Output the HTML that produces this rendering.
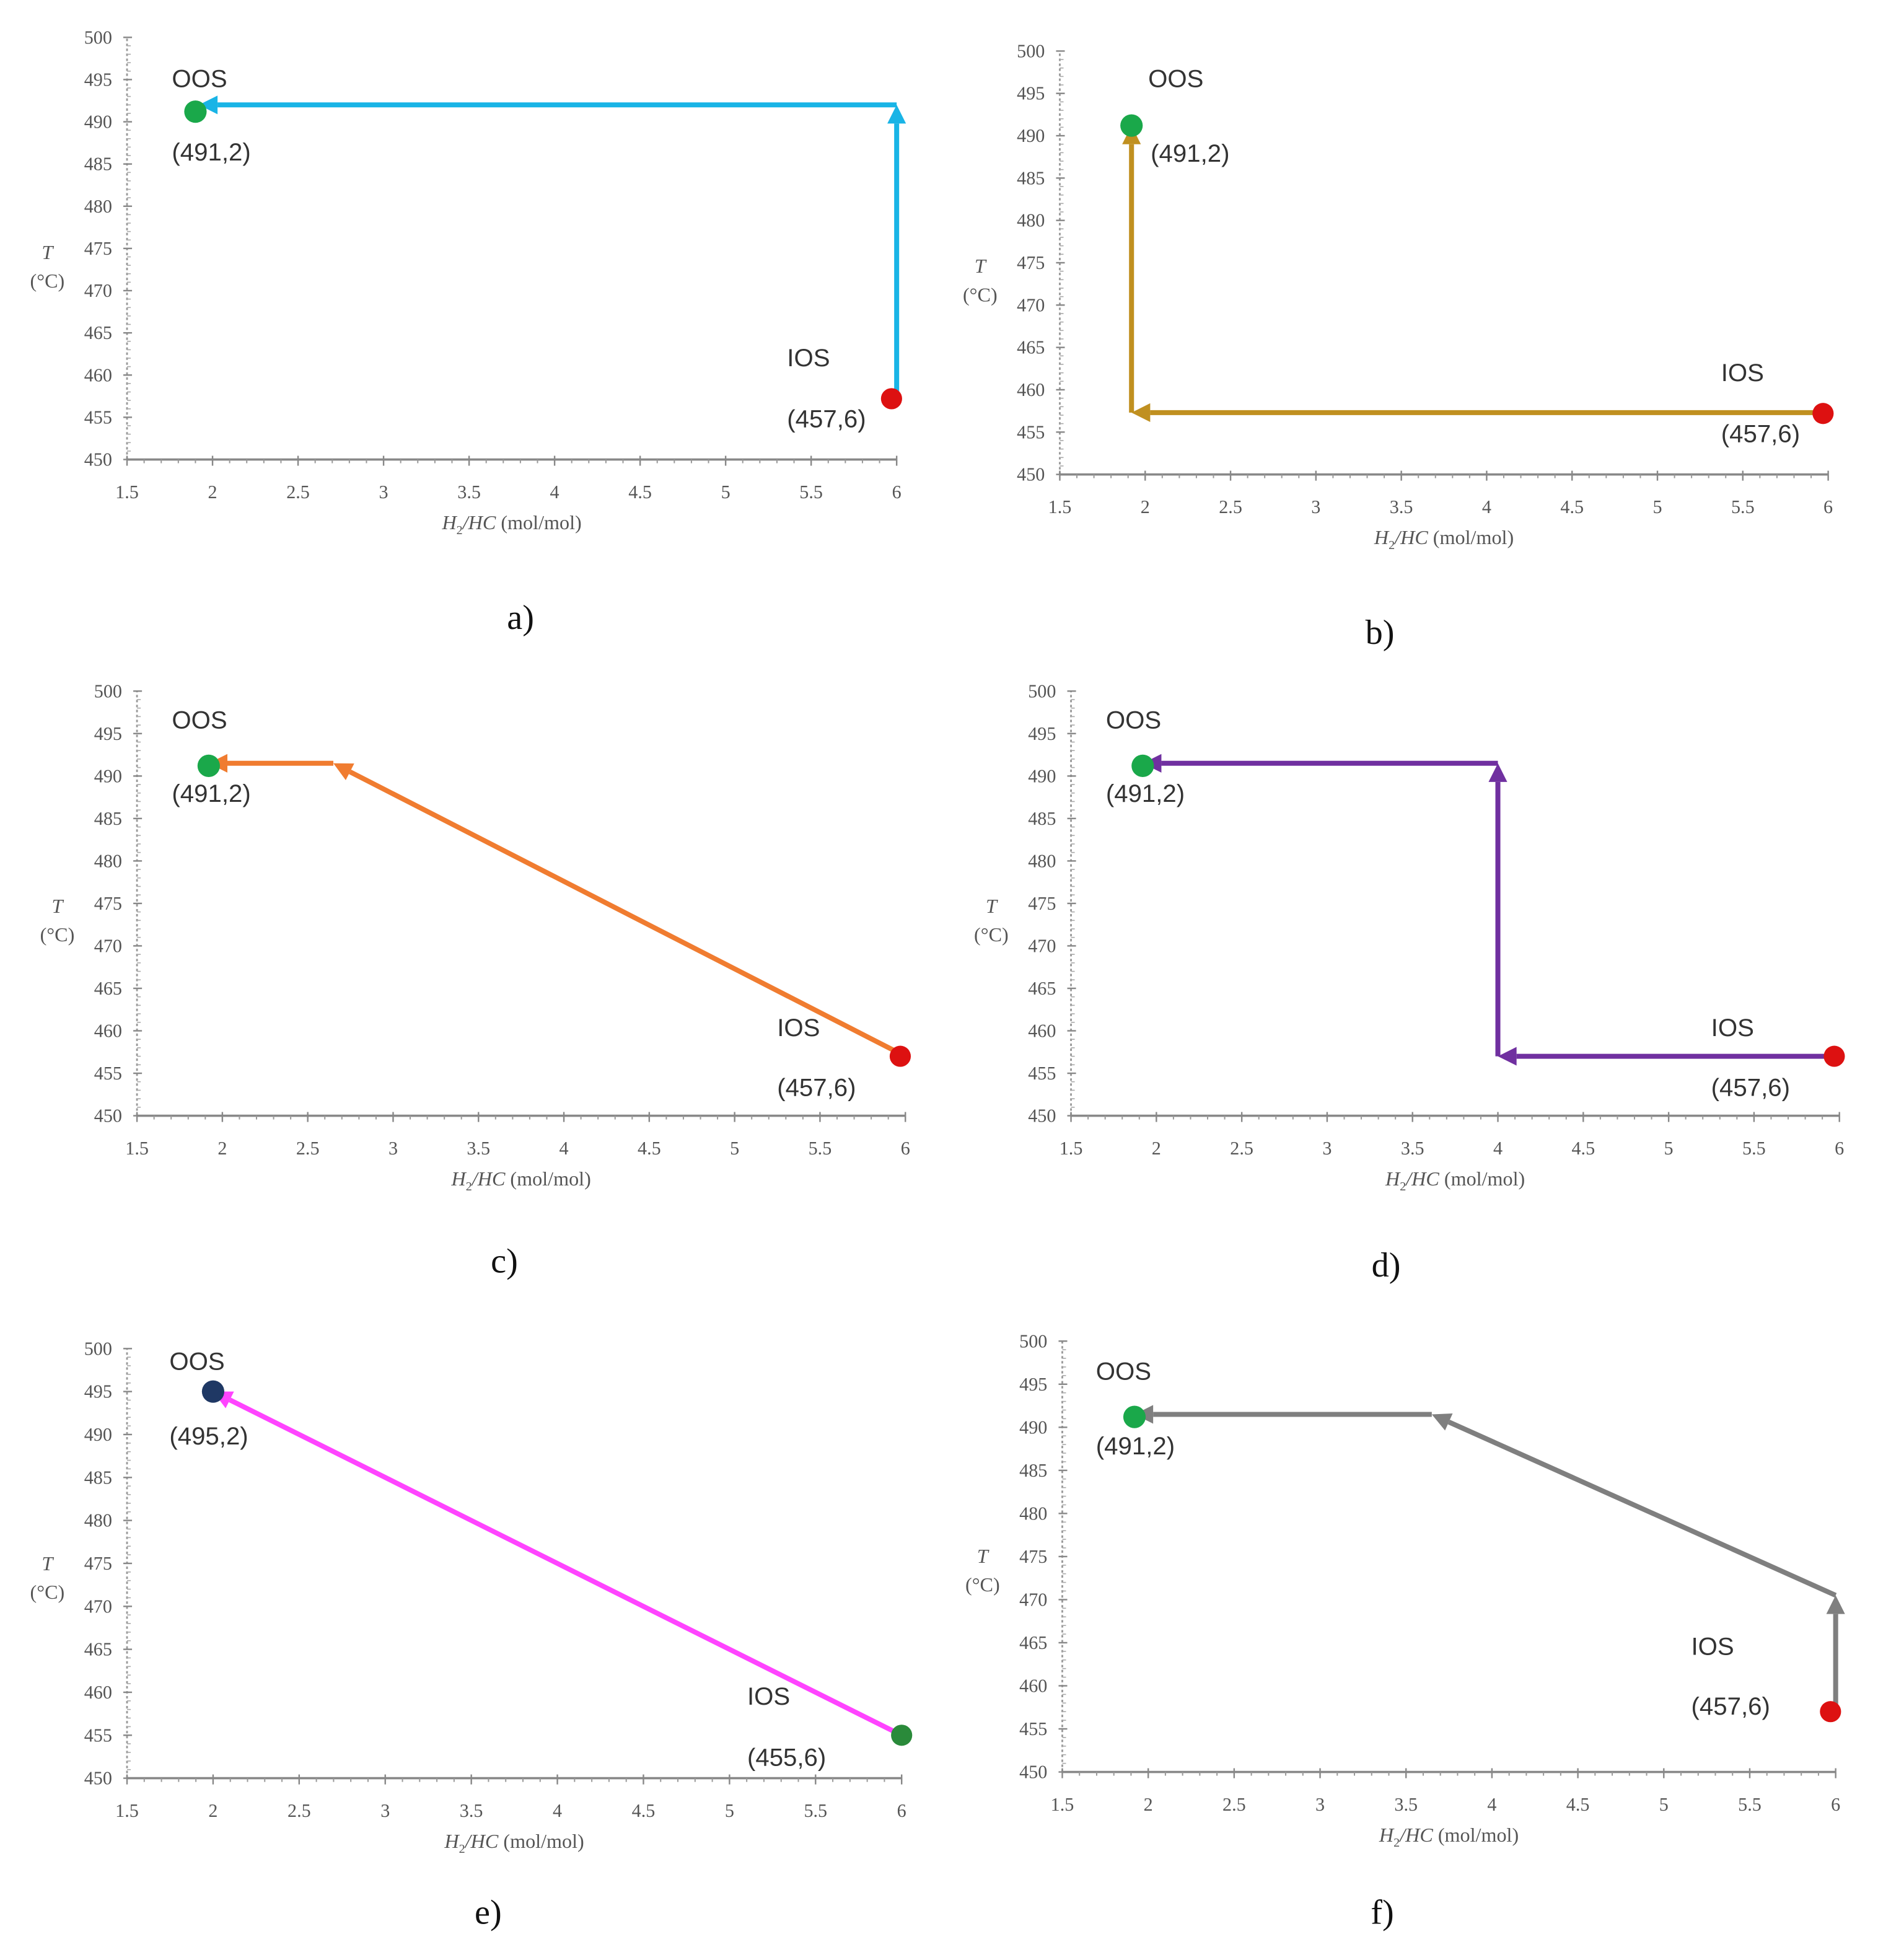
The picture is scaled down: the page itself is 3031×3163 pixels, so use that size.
<!DOCTYPE html>
<html><head><meta charset="utf-8">
<style>
html,body{margin:0;padding:0;background:#fff;}
svg{display:block;}
.tk{font-family:"Liberation Serif",serif;font-size:15px;fill:#555;}
.lb{font-family:"Liberation Sans",sans-serif;font-size:20px;fill:#333;}
.cap{font-family:"Liberation Serif",serif;font-size:28px;fill:#111;}
.at{font-family:"Liberation Serif",serif;font-size:16px;fill:#555;}
</style></head>
<body>
<svg id="fig" width="3031" height="3163" viewBox="0 0 1508 1574" preserveAspectRatio="none" xmlns="http://www.w3.org/2000/svg"></svg>
<script>
// axis tick values
const xTicks = [1.5,2,2.5,3,3.5,4,4.5,5,5.5,6];
const yTicks = [450,455,460,465,470,475,480,485,490,495,500];
// panel captions
const captions = ['a)','b)','c)','d)','e)','f)'];
// path x-values (H2/HC) per panel
const pathX = [[6,6,1.92],[6,1.92,1.92],[6,2.65,1.92],[6,4,4,1.92],[6,2],[6,6,3.65,1.92]];
// path y-values (T) per panel
const pathY = [[457.6,492,492],[457.3,457.3,491.2],[457,491.5,491.5],[457,457,491.5,491.5],[455,495],[457,470.5,491.5,491.5]];
const pathColors = ['#19b4e6','#c09020','#f07c30','#7030a0','#ff44ff','#7f7f7f'];
// OOS points
const oosX = [1.9,1.92,1.92,1.92,2.0,1.92];
const oosY = [491.2,491.2,491.2,491.2,495,491.2];
const oosLabels = ['(491,2)','(491,2)','(491,2)','(491,2)','(495,2)','(491,2)'];
// IOS points
const iosX = [5.97,5.97,5.97,5.97,6,5.97];
const iosY = [457.2,457.2,457,457,455,457];
const iosLabels = ['(457,6)','(457,6)','(457,6)','(457,6)','(455,6)','(457,6)'];
const oosColors = ['#1aa84a','#1aa84a','#1aa84a','#1aa84a','#1f3864','#1aa84a'];
const iosColors = ['#dd1111','#dd1111','#dd1111','#dd1111','#2a8a3a','#dd1111'];

// layout (not data)
const frames = [
 {x0:102,x1:720,yT:30,yB:369,cx:418,cy:505},
 {x0:851,x1:1468,yT:41,yB:381,cx:1108,cy:517},
 {x0:110,x1:727,yT:555,yB:896,cx:405,cy:1022},
 {x0:860,x1:1477,yT:555,yB:896,cx:1113,cy:1025},
 {x0:102,x1:724,yT:1083,yB:1428,cx:392,cy:1545},
 {x0:853,x1:1474,yT:1077,yB:1423,cx:1110,cy:1545}
];
const oosLab = [[138,70,138,135],[922,70,924,136],[138,585,138,650],[888,585,888,650],[136,1100,136,1166],[880,1108,880,1174]];
const iosLab = [[632,300,632,350],[1382,312,1382,362],[624,838,624,887],[1374,838,1374,887],[600,1375,600,1425],[1358,1335,1358,1384]];

const NS='http://www.w3.org/2000/svg';
const svg=document.getElementById('fig');
function mk(tag,attrs,parent){const e=document.createElementNS(NS,tag);for(const k in attrs)e.setAttribute(k,attrs[k]);(parent||svg).appendChild(e);return e;}

frames.forEach((f,i)=>{
  const g=mk('g',{});
  
  
  const sx=v=>f.x0+(v-1.5)/(6-1.5)*(f.x1-f.x0);
  const sy=v=>f.yB-(v-450)/50*(f.yB-f.yT);
  const xa=mk('line',{x1:f.x0,y1:f.yB,x2:f.x1,y2:f.yB,stroke:'#888','stroke-width':1.8},g);
  
  
  const ya=mk('line',{x1:f.x0,y1:f.yB,x2:f.x0,y2:f.yT,stroke:'#999','stroke-width':1.4,'stroke-dasharray':'2 2'},g);
  
  
  for(let v=1.5;v<=6.001;v+=0.1){mk('line',{x1:sx(v),y1:f.yB,x2:sx(v),y2:f.yB+3,stroke:'#999','stroke-width':1},g);}
  for(let v=450;v<=500;v+=1){mk('line',{x1:f.x0,y1:sy(v),x2:f.x0+3,y2:sy(v),stroke:'#aaa','stroke-width':0.8},g);}
  xTicks.forEach(v=>{
    mk('line',{x1:sx(v),y1:f.yB-3,x2:sx(v),y2:f.yB+5,stroke:'#888','stroke-width':1.2},g);
    const t=mk('text',{x:sx(v),y:f.yB+31,'text-anchor':'middle',class:'tk'},g);t.textContent=v;
    
    
  });
  yTicks.forEach(v=>{
    mk('line',{x1:f.x0-3,y1:sy(v),x2:f.x0+4,y2:sy(v),stroke:'#888','stroke-width':1.2},g);
    const t=mk('text',{x:f.x0-12,y:sy(v)+5,'text-anchor':'end',class:'tk'},g);t.textContent=v;
    
    
  });
  const xt=mk('text',{x:(f.x0+f.x1)/2,y:f.yB+56,'text-anchor':'middle',class:'at'},g);
  xt.innerHTML='<tspan font-style="italic">H</tspan><tspan font-size="10" dy="4">2</tspan><tspan dy="-4" font-style="italic">/HC</tspan> (mol/mol)';
  
  
  const yt=mk('text',{x:f.x0-64,y:f.yT+178,'text-anchor':'middle',class:'at','font-style':'italic'},g);yt.textContent='T';
  
  
  const yu=mk('text',{x:f.x0-64,y:f.yT+201,'text-anchor':'middle',class:'at'},g);yu.textContent='(°C)';
  
  
  const px=pathX[i], py=pathY[i], col=pathColors[i];
  for(let k=0;k<px.length-1;k++){
    const x1=sx(px[k]),y1=sy(py[k]),x2=sx(px[k+1]),y2=sy(py[k+1]);
    const ang=Math.atan2(y2-y1,x2-x1), L=15, W=7.5;
    const bx=x2-L*Math.cos(ang), by=y2-L*Math.sin(ang);
    const seg=mk('line',{x1:x1,y1:y1,x2:bx,y2:by,stroke:col,'stroke-width':4},g);
    
    
    const nx=-Math.sin(ang),ny=Math.cos(ang);
    const ah=mk('polygon',{points:`${x2},${y2} ${bx+nx*W},${by+ny*W} ${bx-nx*W},${by-ny*W}`,fill:col},g);
    
    
  }
  const o=mk('circle',{cx:sx(oosX[i]),cy:sy(oosY[i]),r:9,fill:oosColors[i]},g);
  
  
  const r=mk('circle',{cx:sx(iosX[i]),cy:sy(iosY[i]),r:8.5,fill:iosColors[i]},g);
  
  
  const l1=mk('text',{x:oosLab[i][0],y:oosLab[i][1],class:'lb'},g);l1.textContent='OOS';
  
  
  const l2=mk('text',{x:oosLab[i][2],y:oosLab[i][3]-6,class:'lb'},g);l2.textContent=oosLabels[i];
  
  
  const l3=mk('text',{x:iosLab[i][0],y:iosLab[i][1]-6,class:'lb'},g);l3.textContent='IOS';
  
  
  const l4=mk('text',{x:iosLab[i][2],y:iosLab[i][3]-7,class:'lb'},g);l4.textContent=iosLabels[i];
  
  
  const c=mk('text',{x:f.cx,y:f.cy,'text-anchor':'middle',class:'cap'},g);c.textContent=captions[i];
  
  
});
</script>
</body></html>
